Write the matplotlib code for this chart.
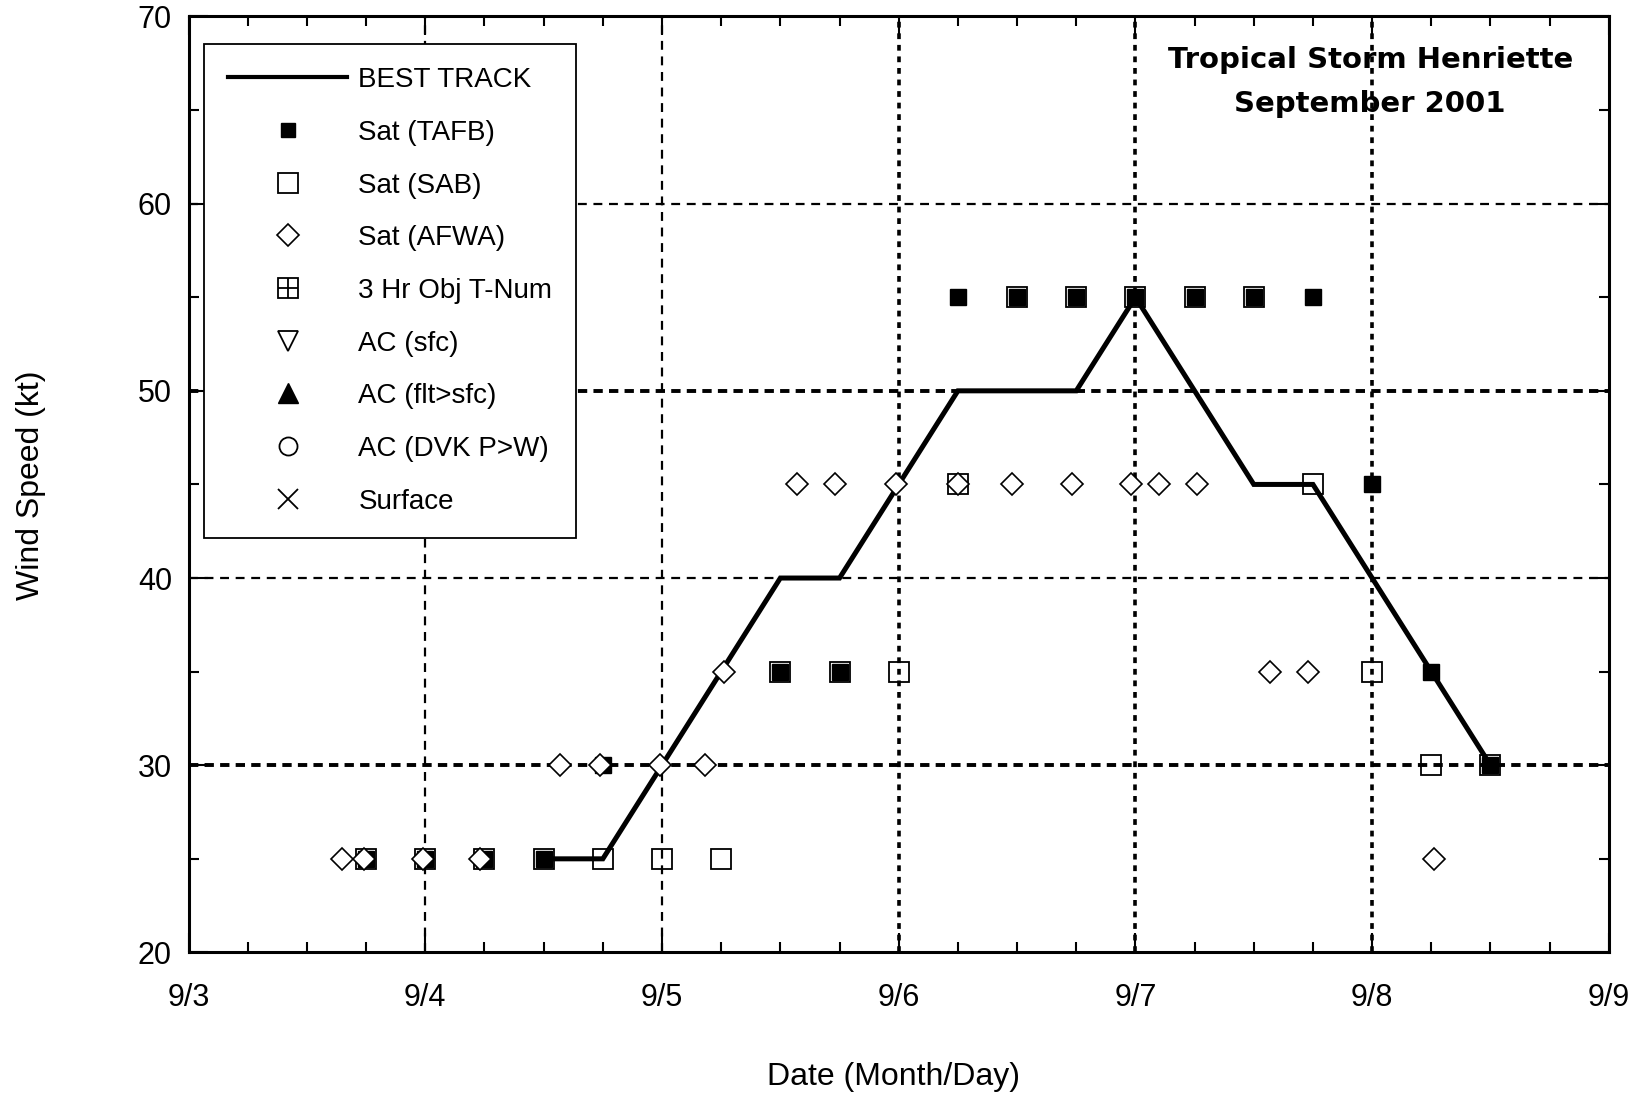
import matplotlib
matplotlib.use("Agg")
from matplotlib import pyplot as plt
from matplotlib.lines import Line2D
from matplotlib.legend_handler import HandlerTuple
from matplotlib.ticker import MultipleLocator, FixedFormatter, FixedLocator

plt.rcParams['font.family'] = ['Liberation Sans', 'DejaVu Sans']

# best track (6-hourly)
track_x = [4.5, 4.75, 5.0, 5.25, 5.5, 5.75, 6.0, 6.25, 6.5, 6.75, 7.0, 7.25, 7.5, 7.75, 8.0, 8.25, 8.5]
track_y = [25, 25, 30, 35, 40, 40, 45, 50, 50, 50, 55, 50, 45, 45, 40, 35, 30]

# Sat (TAFB)
tafb_x = [3.75, 4.0, 4.25, 4.5, 4.75, 5.5, 5.75, 6.25, 6.5, 6.75, 7.0, 7.25, 7.5, 7.75, 8.0, 8.25, 8.5]
tafb_y = [25, 25, 25, 25, 30, 35, 35, 55, 55, 55, 55, 55, 55, 55, 45, 35, 30]

# Sat (SAB)
sab_x = [3.75, 4.0, 4.25, 4.5, 4.75, 5.0, 5.25, 5.5, 5.75, 6.0, 6.25, 6.5, 6.75, 7.0, 7.25, 7.5, 7.75, 8.0, 8.25, 8.5]
sab_y = [25, 25, 25, 25, 25, 25, 25, 35, 35, 35, 45, 55, 55, 55, 55, 55, 45, 35, 30, 30]

# Sat (AFWA)
afwa_x = [3.65, 3.74, 3.99, 4.23, 4.57, 4.74, 4.99, 5.18, 5.26, 5.57, 5.73, 5.99,
          6.25, 6.48, 6.73, 6.98, 7.1, 7.26, 7.57, 7.73, 8.26]
afwa_y = [25, 25, 25, 25, 30, 30, 30, 30, 35, 45, 45, 45,
          45, 45, 45, 45, 45, 45, 35, 35, 25]

day_ticks = [3, 4, 5, 6, 7, 8, 9]
day_labels = ['9/3', '9/4', '9/5', '9/6', '9/7', '9/8', '9/9']
thin_vgrid = [4, 5]
bold_vgrid = [6, 7, 8]
thin_hgrid = [40, 60]
bold_hgrid = [30, 50]

fig = plt.figure(figsize=(16.4, 10.96), dpi=100)
ax = fig.add_axes([0.115, 0.131, 0.866, 0.854])

for x in thin_vgrid:
    ax.axvline(x, color='black', lw=1.6, dashes=(4, 3), zorder=1)
for x in bold_vgrid:
    ax.axvline(x, color='black', lw=2.6, dashes=(1.6, 1.6), zorder=1)
for y in thin_hgrid:
    ax.axhline(y, color='black', lw=1.6, dashes=(4, 3), zorder=1)
for y in bold_hgrid:
    ax.axhline(y, color='black', lw=2.8, dashes=(2.4, 1.6), zorder=1)

ax.plot(track_x, track_y, color='black', lw=3.6, solid_joinstyle='miter', zorder=3)
ax.plot(sab_x, sab_y, ls='none', marker='s', ms=15, mfc='none', mec='black', mew=1.3, zorder=4)
ax.plot(tafb_x, tafb_y, ls='none', marker='s', ms=11, mfc='black', mec='black', mew=1, zorder=5)
ax.plot(afwa_x, afwa_y, ls='none', marker='D', ms=11.5, mfc='white', mec='black', mew=1.2, zorder=6)

ax.set_xlim(3, 9)
ax.set_ylim(20, 70)
ax.xaxis.set_major_locator(FixedLocator(day_ticks))
ax.xaxis.set_major_formatter(FixedFormatter(day_labels))
ax.xaxis.set_minor_locator(MultipleLocator(0.25))
ax.yaxis.set_major_locator(MultipleLocator(10))
ax.yaxis.set_minor_locator(MultipleLocator(5))
ax.tick_params(which='both', direction='in', top=True, right=True, width=1.5, labelsize=22)
ax.tick_params(which='major', length=14)
ax.tick_params(which='minor', length=7)
ax.tick_params(axis='x', pad=22)
ax.tick_params(axis='y', pad=12)
for s in ax.spines.values():
    s.set_linewidth(2.2)

fig.text(31 / 1640, 1 - 485 / 1096, 'Wind Speed (kt)', rotation=90, ha='center', va='center', fontsize=23)
fig.text(894 / 1640, 1 - 1077 / 1096, 'Date (Month/Day)', ha='center', va='center', fontsize=23)
ax.text(0.832, 0.968, 'Tropical Storm Henriette\nSeptember 2001', transform=ax.transAxes,
        ha='center', va='top', fontsize=21, fontweight='bold', linespacing=1.7,
        family=['DejaVu Sans'])

handles = [
    Line2D([], [], color='black', lw=3),
    Line2D([], [], ls='none', marker='s', ms=10, mfc='black', mec='black'),
    Line2D([], [], ls='none', marker='s', ms=15, mfc='none', mec='black', mew=1.3),
    Line2D([], [], ls='none', marker='D', ms=11, mfc='none', mec='black', mew=1.2),
    (Line2D([], [], ls='none', marker='s', ms=15, mfc='none', mec='black', mew=1.3),
     Line2D([], [], ls='none', marker='+', ms=15, mec='black', mew=1.3)),
    Line2D([], [], ls='none', marker='v', ms=15, mfc='none', mec='black', mew=1.3),
    Line2D([], [], ls='none', marker='^', ms=15, mfc='black', mec='black'),
    Line2D([], [], ls='none', marker='o', ms=13, mfc='none', mec='black', mew=1.3),
    Line2D([], [], ls='none', marker='x', ms=15, mec='black', mew=1.3),
]
labels = ['BEST TRACK', 'Sat (TAFB)', 'Sat (SAB)', 'Sat (AFWA)', '3 Hr Obj T-Num',
          'AC (sfc)', 'AC (flt>sfc)', 'AC (DVK P>W)', 'Surface']
leg = ax.legend(handles, labels, loc='upper left', bbox_to_anchor=(0.011, 0.971), borderaxespad=0,
                fontsize=20, frameon=True, fancybox=False, framealpha=1, edgecolor='black',
                handlelength=4.3, handletextpad=0.4, labelspacing=0.96, borderpad=0.85,
                handler_map={tuple: HandlerTuple(ndivide=1, pad=0)})
leg.get_frame().set_linewidth(1.3)
leg.set_zorder(10)

plt.savefig('out.png', dpi=100)
